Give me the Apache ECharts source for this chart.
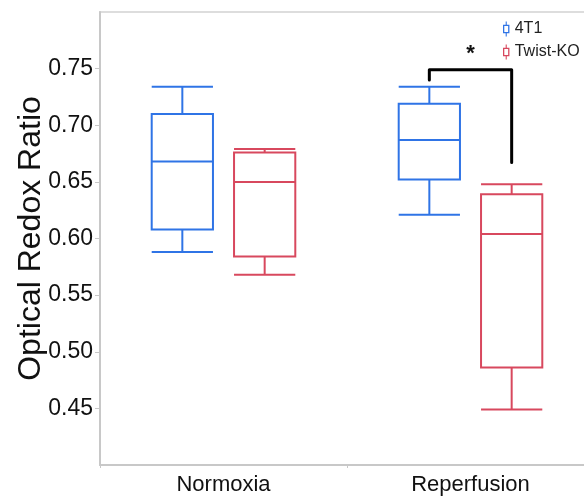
<!DOCTYPE html>
<html>
<head>
<meta charset="utf-8">
<script src="https://cdn.jsdelivr.net/npm/echarts@6/dist/echarts.min.js"></script>
<style>
  html, body { margin: 0; padding: 0; background: #fff; }
  #chart { width: 584px; height: 500px; }
</style>
</head>
<body>
<div id="chart"></div>
<script>
// data: [min, Q1, median, Q3, max]
var categories = ['Normoxia', 'Reperfusion'];
var seriesNames = ['4T1', 'Twist-KO'];
var stats4T1 = [
    [0.588, 0.608, 0.668, 0.710, 0.734],
    [0.621, 0.652, 0.687, 0.719, 0.734]
];
var statsKO = [
    [0.568, 0.584, 0.650, 0.676, 0.679],
    [0.449, 0.486, 0.604, 0.639, 0.648]
];
// significance bracket on Reperfusion: left leg end, top, right leg end
var bracket = [1, 0.740, 0.749, 0.667];
var starPos = [1, 0.763];
var yTicks = { min: 0.40, max: 0.80, step: 0.05 };

var blue = '#2f74e6';
var red = '#d8485e';
var fontMain = "'Liberation Sans', Arial, sans-serif";

function withIndex(rows) {
    return rows.map(function (r, i) { return [i].concat(r); });
}

function boxRender(side) {
    return function (params, api) {
        var cat = api.value(0);
        var band = api.size([1, 0])[0];
        var cx = api.coord([cat, 0])[0] + side * band / 6;
        var half = band * 0.124;
        var yMin = api.coord([cat, api.value(1)])[1];
        var yQ1 = api.coord([cat, api.value(2)])[1];
        var yMed = api.coord([cat, api.value(3)])[1];
        var yQ3 = api.coord([cat, api.value(4)])[1];
        var yMax = api.coord([cat, api.value(5)])[1];
        var st = { stroke: api.visual('color'), lineWidth: 2, fill: null };
        return {
            type: 'group',
            children: [
                { type: 'rect', shape: { x: cx - half, y: yQ3, width: half * 2, height: yQ1 - yQ3 }, style: st },
                { type: 'line', shape: { x1: cx - half, y1: yMed, x2: cx + half, y2: yMed }, style: st },
                { type: 'line', shape: { x1: cx, y1: yQ3, x2: cx, y2: yMax }, style: st },
                { type: 'line', shape: { x1: cx, y1: yQ1, x2: cx, y2: yMin }, style: st },
                { type: 'line', shape: { x1: cx - half, y1: yMax, x2: cx + half, y2: yMax }, style: st },
                { type: 'line', shape: { x1: cx - half, y1: yMin, x2: cx + half, y2: yMin }, style: st }
            ]
        };
    };
}

var boxIcon = 'path://M2.5,0h1v3h-1zM0,3h6v8h-6zM1.2,4.2v5.6h3.6v-5.6zM2.5,11h1v3h-1z';

var myChart = echarts.init(document.getElementById('chart'));
option = {
    animation: false,
    color: [blue, red],
    grid: {
        left: 100, top: 12, width: 494, bottom: 35,
        outerBoundsMode: 'none',
        containLabel: false,
        show: true, borderColor: '#d2d2d2', borderWidth: 1.5
    },
    legend: {
        data: [
            { name: seriesNames[0], icon: boxIcon },
            { name: seriesNames[1], icon: boxIcon }
        ],
        orient: 'vertical',
        left: 498, top: 16,
        itemWidth: 7, itemHeight: 15, itemGap: 7,
        textStyle: { fontFamily: fontMain, fontSize: 16, color: '#222' }
    },
    xAxis: {
        type: 'category',
        data: categories,
        axisLine: { lineStyle: { color: '#c8c8c8', width: 2 } },
        axisTick: { show: true, length: 3, lineStyle: { color: '#c8c8c8' } },
        axisLabel: { fontFamily: fontMain, fontSize: 22, color: '#111', margin: 9 },
        splitLine: { show: false }
    },
    yAxis: {
        type: 'value',
        min: yTicks.min, max: yTicks.max, interval: yTicks.step,
        name: 'Optical Redox Ratio',
        nameLocation: 'middle',
        nameMoveOverlap: false,
        nameGap: 53,
        nameTextStyle: { fontFamily: fontMain, fontSize: 32, color: '#111' },
        axisLine: { show: true, lineStyle: { color: '#c8c8c8', width: 2 } },
        axisTick: { show: true, length: 5, lineStyle: { color: '#c8c8c8' } },
        axisLabel: {
            fontFamily: fontMain, fontSize: 23, color: '#111', margin: 7,
            showMinLabel: false, showMaxLabel: false,
            formatter: function (v) { return v.toFixed(2); }
        },
        splitLine: { show: false }
    },
    series: [
        {
            name: seriesNames[0], type: 'custom',
            renderItem: boxRender(-1),
            encode: { x: 0, y: [1, 2, 3, 4, 5] },
            data: withIndex(stats4T1)
        },
        {
            name: seriesNames[1], type: 'custom',
            renderItem: boxRender(1),
            encode: { x: 0, y: [1, 2, 3, 4, 5] },
            data: withIndex(statsKO)
        },
        {
            name: 'sig', type: 'custom',
            renderItem: function (params, api) {
                var cat = api.value(0);
                var band = api.size([1, 0])[0];
                var c = api.coord([cat, 0])[0];
                var xl = c - band / 6, xr = c + band / 6;
                var yl = api.coord([cat, api.value(1)])[1];
                var yt = api.coord([cat, api.value(2)])[1];
                var yr = api.coord([cat, api.value(3)])[1];
                return {
                    type: 'polyline',
                    shape: { points: [[xl, yl], [xl, yt], [xr, yt], [xr, yr]] },
                    style: { stroke: '#000', lineWidth: 3, fill: null, lineJoin: 'round', lineCap: 'round' }
                };
            },
            encode: { x: 0, y: [1, 2, 3] },
            data: [bracket],
            silent: true
        },
        {
            name: 'star', type: 'custom',
            renderItem: function (params, api) {
                var p = api.coord([api.value(0), api.value(1)]);
                return {
                    type: 'text',
                    style: {
                        text: '*', x: p[0], y: p[1], align: 'center', verticalAlign: 'middle',
                        fontSize: 22, fontWeight: 'bold', fill: '#111',
                        fontFamily: fontMain
                    }
                };
            },
            encode: { x: 0, y: 1 },
            data: [starPos],
            silent: true
        }
    ]
};

myChart.setOption(option);
window.addEventListener("resize", function () {
    myChart.resize();
});
</script>
</body>
</html>
